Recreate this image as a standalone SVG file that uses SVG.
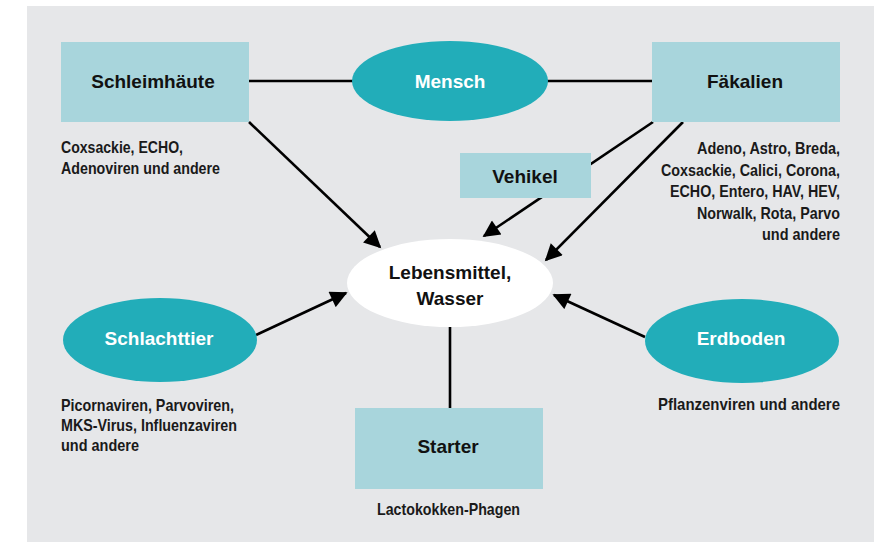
<svg xmlns="http://www.w3.org/2000/svg" width="881" height="542" viewBox="0 0 881 542">
<style>
.box{fill:#a8d5dc}
.oval{fill:#22adb9}
.t{font-family:"Liberation Sans",Arial,sans-serif;font-weight:bold;font-size:19px;text-anchor:middle;fill:#111}
.w{fill:#ffffff}
.s{font-family:"Liberation Sans Narrow","Liberation Sans",Arial,sans-serif;font-weight:bold;font-size:16.5px;fill:#1a1a1a}
.ln{stroke:#000;stroke-width:2.6;fill:none}
.ar{marker-end:url(#ah)}
</style>
<defs>
<marker id="ah" viewBox="0 0 10 10" refX="9" refY="5" markerUnits="userSpaceOnUse" markerWidth="19" markerHeight="17" orient="auto">
<path d="M0,0 L10,5 L0,10 Z" fill="#000"/>
</marker>
</defs>
<rect x="0" y="0" width="881" height="542" fill="#ffffff"/>
<rect x="27" y="6" width="847" height="536" fill="#e6e7e9"/>
<g id="connectors">
<line class="ln" x1="249" y1="81" x2="353" y2="81"/>
<line class="ln" x1="547" y1="81" x2="652" y2="81"/>
<line class="ln ar" x1="249" y1="122" x2="380" y2="247"/>
<line class="ln ar" x1="653" y1="122" x2="484" y2="236"/>
<line class="ln ar" x1="683" y1="122" x2="546" y2="260"/>
<line class="ln ar" x1="256" y1="335" x2="346" y2="293"/>
<line class="ln ar" x1="645" y1="337" x2="554" y2="295"/>
<line class="ln" x1="450" y1="326" x2="450" y2="408"/>
</g>
<g id="schleimhaeute">
<rect class="box" x="61" y="42" width="188" height="80"/>
<text class="t" x="153" y="88">Schleimhäute</text>
<text class="s" x="61" y="153" textLength="122" lengthAdjust="spacingAndGlyphs">Coxsackie, ECHO,</text>
<text class="s" x="61" y="174" textLength="159" lengthAdjust="spacingAndGlyphs">Adenoviren und andere</text>
</g>
<g id="mensch">
<ellipse class="oval" cx="450" cy="81" rx="98" ry="40"/>
<text class="t w" x="450" y="88">Mensch</text>
</g>
<g id="faekalien">
<rect class="box" x="652" y="42" width="188" height="80"/>
<text class="t" x="745" y="88">Fäkalien</text>
<g class="s" text-anchor="end">
<text x="840" y="154" textLength="143" lengthAdjust="spacingAndGlyphs">Adeno, Astro, Breda,</text>
<text x="840" y="176" textLength="179" lengthAdjust="spacingAndGlyphs">Coxsackie, Calici, Corona,</text>
<text x="840" y="197" textLength="170" lengthAdjust="spacingAndGlyphs">ECHO, Entero, HAV, HEV,</text>
<text x="840" y="219" textLength="143" lengthAdjust="spacingAndGlyphs">Norwalk, Rota, Parvo</text>
<text x="840" y="240" textLength="78" lengthAdjust="spacingAndGlyphs">und andere</text>
</g>
</g>
<g id="vehikel">
<rect class="box" x="460" y="153" width="131" height="45"/>
<text class="t" x="525" y="183">Vehikel</text>
</g>
<g id="lebensmittel">
<ellipse cx="450" cy="283" rx="103" ry="44" fill="#ffffff"/>
<text class="t" x="450" y="279">Lebensmittel,</text>
<text class="t" x="450" y="305">Wasser</text>
</g>
<g id="schlachttier">
<ellipse class="oval" cx="160" cy="340" rx="97" ry="42"/>
<text class="t w" x="159" y="345">Schlachttier</text>
<text class="s" x="61" y="411" textLength="173" lengthAdjust="spacingAndGlyphs">Picornaviren, Parvoviren,</text>
<text class="s" x="61" y="431" textLength="176" lengthAdjust="spacingAndGlyphs">MKS-Virus, Influenzaviren</text>
<text class="s" x="61" y="451" textLength="78" lengthAdjust="spacingAndGlyphs">und andere</text>
</g>
<g id="erdboden">
<ellipse class="oval" cx="742" cy="341" rx="97" ry="42"/>
<text class="t w" x="741" y="345">Erdboden</text>
<text class="s" x="658" y="410" textLength="182" lengthAdjust="spacingAndGlyphs">Pflanzenviren und andere</text>
</g>
<g id="starter">
<rect class="box" x="355" y="408" width="188" height="81"/>
<text class="t" x="448" y="453">Starter</text>
<text class="s" x="377" y="515" textLength="143" lengthAdjust="spacingAndGlyphs">Lactokokken-Phagen</text>
</g>
</svg>
